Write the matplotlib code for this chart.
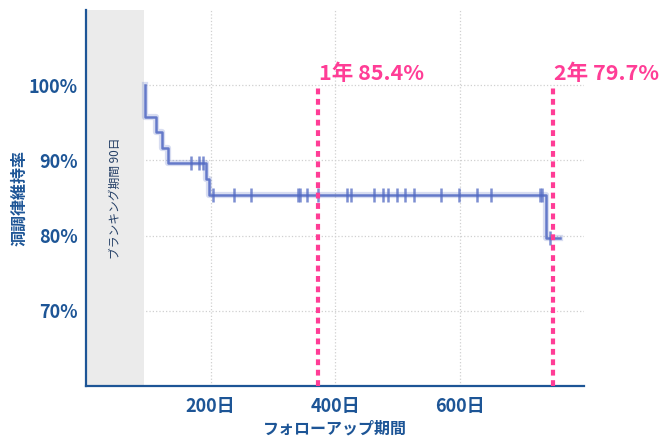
import matplotlib
matplotlib.use("Agg")
import matplotlib.pyplot as plt

plt.rcParams['font.family'] = ['Noto Sans CJK JP', 'DejaVu Sans']

# Kaplan-Meier style data (days, survival %)
step_days = [94, 94, 113, 122, 131, 192, 197, 739, 762]
step_surv = [100, 95.8, 93.8, 91.7, 89.6, 87.5, 85.4, 79.7, 79.7]

censor_896 = [168, 181, 188]
censor_854 = [204, 237, 265, 340, 344, 355, 373, 420, 426, 462, 477, 485,
              499, 513, 527, 570, 599, 628, 650, 730, 733]
censor_797 = [745]

blanking_end = 93
marker_days = [372, 750]
marker_labels = ["1年 85.4%", "2年 79.7%"]

yticks = [70, 80, 90, 100]
ytick_labels = ["70%", "80%", "90%", "100%"]
xticks = [200, 400, 600]
xtick_labels = ["200日", "400日", "600日"]

navy = '#1d5596'
curve = '#5068c2'
pink = '#ff3d96'

fig = plt.figure(figsize=(6.67, 4.38), dpi=100)
ax = fig.add_axes([0.129, 0.1187, 0.7466, 0.8584])

ax.set_xlim(0, 800)
ax.set_ylim(60, 110)

ax.axvspan(0, blanking_end, color='#ebebeb', zorder=1, lw=0)
ax.text(blanking_end / 2, 85, "ブランキング期間 90日", rotation=90, ha='center',
        va='center', fontsize=8.5, color='#243f66', zorder=2)

ax.set_axisbelow(True)
ax.grid(True, color='#d0d0d0', linestyle=':', linewidth=0.9)

# curve with soft glow
ax.step(step_days, step_surv, where='post', color=curve, lw=4.5, alpha=0.22, zorder=3)
ax.step(step_days, step_surv, where='post', color=curve, lw=1.8, alpha=0.85, zorder=4)

for days, level in [(censor_896, 89.6), (censor_854, 85.4), (censor_797, 79.7)]:
    ax.plot(days, [level] * len(days), linestyle='none', marker='|', markersize=10,
            mew=1.8, color=curve, alpha=0.75, zorder=5)

for d, lab in zip(marker_days, marker_labels):
    ax.plot([d, d], [60, 100], color=pink, lw=3, linestyle=(0, (1.4, 1.1)), zorder=6)
    ax.text(d + 2, 101.6, lab, color=pink, fontsize=15.5, ha='left', va='center',
            fontweight='bold', zorder=7)

ax.set_yticks(yticks)
ax.set_yticklabels(ytick_labels)
ax.set_xticks(xticks)
ax.set_xticklabels(xtick_labels)
ax.tick_params(length=0, labelcolor=navy, labelsize=13)
ax.tick_params(axis='y', pad=6)
ax.tick_params(axis='x', pad=8)
for lab in ax.get_xticklabels() + ax.get_yticklabels():
    lab.set_fontweight('bold')

for s in ['top', 'right']:
    ax.spines[s].set_visible(False)
for s in ['left', 'bottom']:
    ax.spines[s].set_color(navy)
    ax.spines[s].set_linewidth(1.6)

ax.set_xlabel("フォローアップ期間", color=navy, fontsize=11.5, fontweight='bold', labelpad=3)
ax.set_ylabel("洞調律維持率", color=navy, fontsize=11.5, fontweight='bold', labelpad=1)

fig.savefig("out.png", dpi=100)
